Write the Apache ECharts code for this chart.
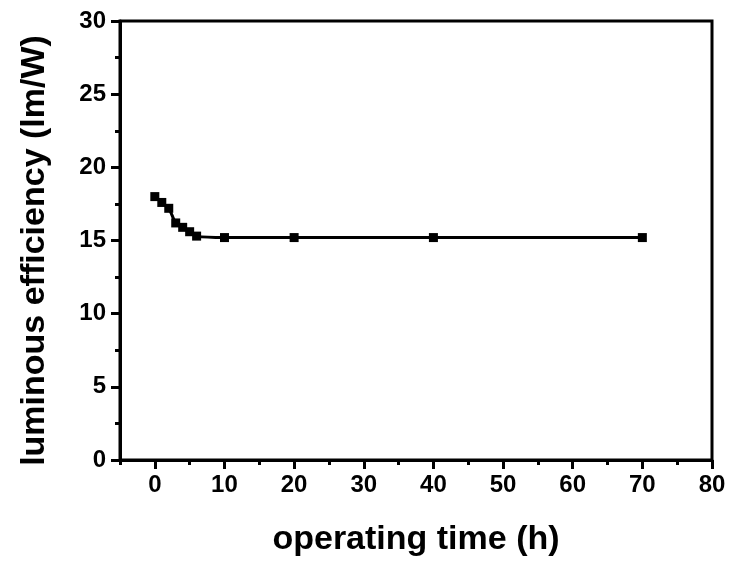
<!DOCTYPE html>
<html>
<head>
<meta charset="utf-8">
<script src="https://cdn.jsdelivr.net/npm/echarts@6/dist/echarts.min.js"></script>
<style>
  html, body { margin: 0; padding: 0; background: #fff; }
  #main { width: 732px; height: 561px; }
</style>
</head>
<body>
<div id="main"></div>
<script>
// data
var timeHours = [0, 1, 2, 3, 4, 5, 6, 10, 20, 40, 70];
var efficiency = [18.0, 17.6, 17.2, 16.2, 15.9, 15.6, 15.3, 15.2, 15.2, 15.2, 15.2];

// tick positions
var xMajorTicks = [0, 10, 20, 30, 40, 50, 60, 70, 80];
var xMinorTicks = [-5, 5, 15, 25, 35, 45, 55, 65, 75];

var myChart = echarts.init(document.getElementById('main'));

var fontFam = '"Liberation Sans", Arial, sans-serif';

var points = timeHours.map(function (t, i) { return [t, efficiency[i]]; });

var option = {
    animation: false,
    backgroundColor: '#fff',
    grid: {
        left: 120, right: 20, top: 21, bottom: 101,
        outerBoundsMode: 'none',
        show: true, borderColor: '#000', borderWidth: 3
    },
    xAxis: [
        {
            type: 'value',
            min: -5, max: 80,
            name: 'operating time (h)',
            nameLocation: 'middle',
            nameGap: 63,
            nameTextStyle: { fontFamily: fontFam, fontWeight: 'bold', fontSize: 34, color: '#000' },
            axisLine: { show: true, onZero: false, lineStyle: { color: '#000', width: 3 } },
            axisTick: { show: true, customValues: xMajorTicks, length: 9, lineStyle: { color: '#000', width: 3 } },
            axisLabel: { customValues: xMajorTicks, margin: 13, fontFamily: fontFam, fontWeight: 'bold', fontSize: 24, color: '#000' },
            splitLine: { show: false }
        },
        {
            type: 'value',
            position: 'bottom',
            min: -5, max: 80,
            axisLine: { show: false, onZero: false },
            axisTick: { show: true, customValues: xMinorTicks, length: 5, lineStyle: { color: '#000', width: 3 } },
            axisLabel: { show: false },
            splitLine: { show: false }
        }
    ],
    yAxis: {
        type: 'value',
        min: 0, max: 30, interval: 5,
        name: 'luminous efficiency (lm/W)',
        nameLocation: 'middle',
        nameGap: 68,
        nameTextStyle: { fontFamily: fontFam, fontWeight: 'bold', fontSize: 34, color: '#000', padding: [0, 20, 0, 0] },
        axisLine: { show: true, onZero: false, lineStyle: { color: '#000', width: 3 } },
        axisTick: { show: true, length: 9, lineStyle: { color: '#000', width: 3 } },
        minorTick: { show: true, splitNumber: 2, length: 5, lineStyle: { color: '#000', width: 3 } },
        axisLabel: { margin: 14, fontFamily: fontFam, fontWeight: 'bold', fontSize: 24, color: '#000' },
        splitLine: { show: false }
    },
    series: [
        {
            type: 'line',
            data: points,
            smooth: 0.3,
            symbol: 'rect',
            symbolSize: 9,
            itemStyle: { color: '#000' },
            lineStyle: { color: '#000', width: 3 }
        }
    ]
};

myChart.setOption(option);
</script>
</body>
</html>
